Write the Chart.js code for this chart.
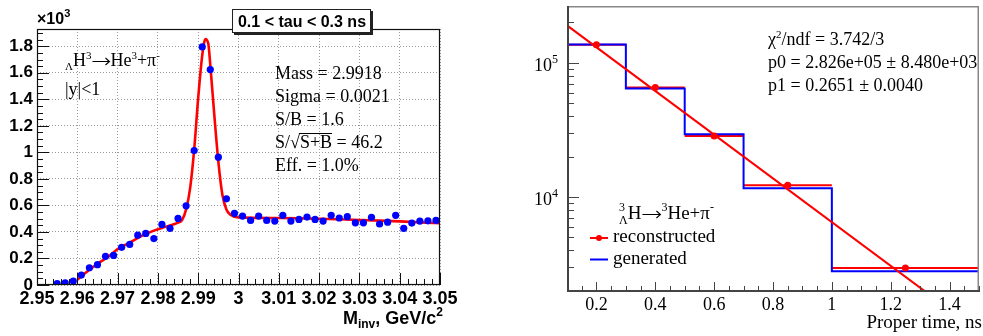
<!DOCTYPE html>
<html>
<head>
<meta charset="utf-8">
<script src="https://cdn.jsdelivr.net/npm/chart.js@4/dist/chart.umd.min.js"></script>
<style>
  html, body { margin: 0; padding: 0; background: #fff; }
  #wrap { position: relative; width: 983px; height: 336px; }
  #massChart { position: absolute; left: 0; top: 0; }
  #tauChart { position: absolute; left: 490px; top: 0; }
</style>
</head>
<body>
<div id="wrap">
  <canvas id="massChart" width="490" height="336"></canvas>
  <canvas id="tauChart" width="493" height="336"></canvas>
</div>
<script>
// left: invariant mass, 0.1 < tau < 0.3 ns (counts in units of 10^3)
const massCentres = [2.955, 2.957, 2.959, 2.961, 2.963, 2.965, 2.967, 2.969, 2.971, 2.973,
  2.975, 2.977, 2.979, 2.981, 2.983, 2.985, 2.987, 2.989, 2.991, 2.993,
  2.995, 2.997, 2.999, 3.001, 3.003, 3.005, 3.007, 3.009, 3.011, 3.013,
  3.015, 3.017, 3.019, 3.021, 3.023, 3.025, 3.027, 3.029, 3.031, 3.033,
  3.035, 3.037, 3.039, 3.041, 3.043, 3.045, 3.047, 3.049];
const massCounts = [0.010, 0.017, 0.030, 0.075, 0.130, 0.153, 0.216, 0.223, 0.284, 0.306,
  0.376, 0.389, 0.350, 0.457, 0.427, 0.502, 0.597, 1.014, 1.795, 1.624,
  0.964, 0.650, 0.540, 0.520, 0.487, 0.520, 0.487, 0.482, 0.525, 0.482,
  0.494, 0.512, 0.494, 0.482, 0.525, 0.505, 0.515, 0.469, 0.469, 0.510,
  0.460, 0.474, 0.525, 0.427, 0.467, 0.482, 0.484, 0.487];
// fit curve
const massFitX = [2.960, 2.962, 2.965, 2.968, 2.970, 2.973, 2.976, 2.979, 2.982, 2.985,
  2.986, 2.987, 2.988, 2.989, 2.990, 2.991, 2.9918, 2.9925, 2.993, 2.994,
  2.995, 2.996, 2.997, 2.998, 3.000, 3.010, 3.020, 3.030, 3.040, 3.050];
const massFitY = [0.04, 0.09, 0.16, 0.22, 0.27, 0.32, 0.37, 0.41, 0.44, 0.47,
  0.49, 0.57, 0.73, 1.02, 1.41, 1.73, 1.855, 1.82, 1.66, 1.28,
  0.93, 0.68, 0.57, 0.53, 0.51, 0.505, 0.50, 0.49, 0.48, 0.465];
const massTicks = [2.95, 2.96, 2.97, 2.98, 2.99, 3.00, 3.01, 3.02, 3.03, 3.04, 3.05];
const countTicks = [0, 0.2, 0.4, 0.6, 0.8, 1.0, 1.2, 1.4, 1.6, 1.8];

// right: proper time spectrum
const tauEdges = [0.1, 0.3, 0.5, 0.7, 1.0, 1.5];
const generated = [1.37e5, 6.44e4, 2.93e4, 1.16e4, 2.79e3];
const reconstructed = [1.36e5, 6.55e4, 2.84e4, 1.22e4, 2.95e3];
const recoCentres = [0.2, 0.4, 0.6, 0.85, 1.25];
const expFitX = [0.1, 1.32];
const expFitY = [1.9e5, 1950];
const tauTicks = [0.2, 0.4, 0.6, 0.8, 1.0, 1.2, 1.4];
const yieldMajor = [1e4, 1e5];

const SANS = '"Liberation Sans", Arial, sans-serif';
const SERIF = '"Liberation Serif", "Times New Roman", serif';
const RED = 'rgb(255,0,0)';
const BLUE = 'rgb(0,0,255)';

// draw a run of text pieces (sub/superscripts, thin arrow) left to right
function richText(ctx, x, y, parts, align) {
  const fnt = p => (p.bold ? 'bold ' : '') + p.size + 'px ' + (p.family || SERIF);
  let total = 0;
  parts.forEach(p => {
    ctx.font = fnt(p);
    p.w = p.arrow ? p.arrow : ctx.measureText(p.t).width;
    if (!p.keep) total += p.w;
  });
  let cx = align === 'right' ? x - total : x;
  ctx.textAlign = 'left';
  ctx.textBaseline = 'alphabetic';
  parts.forEach(p => {
    if (p.arrow) {
      const ay = Math.round(y - 5) + 0.5;
      ctx.save();
      ctx.strokeStyle = ctx.fillStyle;
      ctx.lineWidth = 1.1;
      ctx.beginPath();
      ctx.moveTo(cx + 1, ay); ctx.lineTo(cx + p.w - 1, ay);
      ctx.moveTo(cx + p.w - 5, ay - 3.5); ctx.lineTo(cx + p.w - 1, ay); ctx.lineTo(cx + p.w - 5, ay + 3.5);
      ctx.stroke();
      ctx.restore();
    } else {
      ctx.font = fnt(p);
      ctx.fillText(p.t, cx, y + (p.dy || 0));
    }
    if (!p.keep) cx += p.w;
  });
  return cx;
}

function fixedAxis(size) {
  return function (scale) {
    if (scale.isHorizontal()) scale.height = size; else scale.width = size;
  };
}

const pts = (xs, ys) => xs.map((x, i) => ({ x: x, y: ys[i] }));

// ---------- left chart ----------
const massDecor = {
  id: 'massDecor',
  afterDatasetsDraw(chart) {
    const { ctx, chartArea: a, scales: { x, y } } = chart;
    ctx.save();
    ctx.strokeStyle = '#111';
    ctx.lineWidth = 1;
    ctx.beginPath();
    for (let i = 0; i <= 38; i++) {
      const py = Math.round(y.getPixelForValue(i * 0.05)) + 0.5;
      if (py < a.top) continue;
      const len = i % 4 === 0 ? 12 : 6;
      ctx.moveTo(a.left, py); ctx.lineTo(a.left + len, py);
    }
    for (let i = 0; i <= 50; i++) {
      const px = Math.round(x.getPixelForValue(2.95 + i * 0.002)) + 0.5;
      const len = i % 5 === 0 ? 12 : 6;
      ctx.moveTo(px, a.bottom); ctx.lineTo(px, a.bottom - len);
    }
    ctx.stroke();
    ctx.lineWidth = 1.2;
    ctx.strokeRect(Math.round(a.left) + 0.5, Math.round(a.top) + 0.5,
      Math.round(a.width) - 1, Math.round(a.height) - 1);
    ctx.restore();
  },
  afterDraw(chart) {
    const { ctx } = chart;
    ctx.save();
    ctx.fillStyle = '#000';
    // exponent
    richText(ctx, 37, 24, [
      { t: '\u00d710', size: 16, bold: true, family: SANS },
      { t: '3', size: 11, bold: true, family: SANS, dy: -7 }
    ]);
    // title box
    ctx.fillStyle = '#222';
    ctx.fillRect(234, 11, 139, 24);
    ctx.fillStyle = '#fff';
    ctx.fillRect(232, 9, 139, 24);
    ctx.strokeStyle = '#222';
    ctx.lineWidth = 1;
    ctx.strokeRect(232.5, 9.5, 138, 23);
    ctx.fillStyle = '#000';
    ctx.font = 'bold 16px ' + SANS;
    ctx.textAlign = 'center';
    ctx.textBaseline = 'alphabetic';
    ctx.fillText('0.1 < tau < 0.3 ns', 302, 27);
    // reaction
    richText(ctx, 65, 66, [
      { t: '\u039b', size: 11, dy: 4 },
      { t: 'H', size: 18 },
      { t: '3', size: 11, dy: -7 },
      { arrow: 19 },
      { t: 'He', size: 18 },
      { t: '3', size: 11, dy: -7 },
      { t: '+\u03c0', size: 18 },
      { t: '-', size: 11, dy: -7 }
    ]);
    richText(ctx, 65, 95, [{ t: '|y|<1', size: 18 }]);
    // fit results
    ctx.font = '18px ' + SERIF;
    ctx.textAlign = 'left';
    ctx.fillText('Mass = 2.9918', 275, 79);
    ctx.fillText('Sigma = 0.0021', 275, 102);
    ctx.fillText('S/B = 1.6', 275, 125);
    const sx = 275 + ctx.measureText('S/\u221a').width;
    ctx.fillText('S/\u221aS+B = 46.2', 275, 148);
    const sw = ctx.measureText('S+B').width;
    ctx.strokeStyle = '#000';
    ctx.lineWidth = 1;
    ctx.beginPath();
    ctx.moveTo(sx - 1, 133.5); ctx.lineTo(sx + sw, 133.5);
    ctx.stroke();
    ctx.fillText('Eff. = 1.0%', 275, 171);
    // axis title
    richText(ctx, 443, 324, [
      { t: 'M', size: 18, bold: true, family: SANS },
      { t: 'inv', size: 12, bold: true, family: SANS, dy: 4 },
      { t: ', GeV/c', size: 18, bold: true, family: SANS },
      { t: '2', size: 12, bold: true, family: SANS, dy: -8 }
    ], 'right');
    ctx.restore();
  }
};

new Chart(document.getElementById('massChart'), {
  type: 'line',
  data: {
    datasets: [
      {
        data: pts(massCentres, massCounts),
        showLine: false,
        pointRadius: 3.6,
        pointBackgroundColor: BLUE,
        pointBorderWidth: 0,
        order: 0
      },
      {
        data: pts(massFitX, massFitY),
        borderColor: RED,
        borderWidth: 2.6,
        pointRadius: 0,
        cubicInterpolationMode: 'monotone',
        order: 1
      }
    ]
  },
  options: {
    responsive: false,
    animation: false,
    layout: { padding: { top: 29, right: 50, left: 0, bottom: 0 } },
    plugins: { legend: { display: false }, tooltip: { enabled: false } },
    scales: {
      x: {
        type: 'linear', min: 2.95, max: 3.05,
        afterBuildTicks: s => { s.ticks = massTicks.map(v => ({ value: v })); },
        afterFit: fixedAxis(51),
        grid: { color: '#9a9a9a', lineWidth: 1, drawTicks: false },
        border: { display: false, dash: [1, 2] },
        ticks: {
          autoSkip: false, maxRotation: 0, padding: 3, color: '#000',
          font: { family: SANS, size: 18, weight: 'bold' },
          callback: v => String(Number(v.toFixed(2)))
        }
      },
      y: {
        type: 'linear', min: 0, max: 1.93,
        afterBuildTicks: s => { s.ticks = countTicks.map(v => ({ value: v })); },
        afterFit: fixedAxis(37),
        grid: { color: '#9a9a9a', lineWidth: 1, drawTicks: false },
        border: { display: false, dash: [1, 2] },
        ticks: {
          autoSkip: false, padding: 4, color: '#000',
          font: { family: SANS, size: 17, weight: 'bold' },
          callback: v => String(Number(v.toFixed(1)))
        }
      }
    }
  },
  plugins: [massDecor]
});

// ---------- right chart ----------
const recoBars = [];
reconstructed.forEach((v, i) => {
  recoBars.push({ x: tauEdges[i], y: v }, { x: tauEdges[i + 1], y: v }, { x: tauEdges[i + 1], y: null });
});
const genSteps = pts(tauEdges, generated.concat([generated[generated.length - 1]]));

const tauDecor = {
  id: 'tauDecor',
  afterDatasetsDraw(chart) {
    const { ctx, chartArea: a, scales: { x, y } } = chart;
    ctx.save();
    ctx.strokeStyle = '#444';
    ctx.lineWidth = 1;
    ctx.beginPath();
    y.ticks.forEach(t => {
      const py = Math.round(y.getPixelForValue(t.value)) + 0.5;
      const len = yieldMajor.includes(t.value) ? 12 : 7;
      ctx.moveTo(a.left, py); ctx.lineTo(a.left + len, py);
    });
    for (let i = 0; i <= 28; i++) {
      const v = 0.1 + i * 0.05;
      const px = Math.round(x.getPixelForValue(v)) + 0.5;
      const len = (i + 2) % 4 === 0 ? 10 : 6;
      ctx.moveTo(px, a.bottom); ctx.lineTo(px, a.bottom - len);
    }
    ctx.stroke();
    // frame: top/right light, axes dark
    ctx.strokeStyle = '#888';
    ctx.lineWidth = 1.5;
    ctx.beginPath();
    ctx.moveTo(a.left, a.top + 0.75); ctx.lineTo(a.right - 0.75, a.top + 0.75);
    ctx.lineTo(a.right - 0.75, a.bottom);
    ctx.stroke();
    ctx.strokeStyle = '#444';
    ctx.lineWidth = 2;
    ctx.beginPath();
    ctx.moveTo(a.left + 1, a.top); ctx.lineTo(a.left + 1, a.bottom - 1);
    ctx.lineTo(a.right, a.bottom - 1);
    ctx.stroke();
    ctx.restore();
  },
  afterDraw(chart) {
    const { ctx, scales: { y } } = chart;
    ctx.save();
    ctx.fillStyle = '#000';
    yieldMajor.forEach(v => {
      const py = y.getPixelForValue(v);
      richText(ctx, 68, py + 8, [
        { t: '10', size: 18 },
        { t: String(Math.round(Math.log10(v))), size: 12, dy: -8 }
      ], 'right');
    });
    // fit box text
    richText(ctx, 278, 45, [
      { t: '\u03c7', size: 18 },
      { t: '2', size: 11, dy: -7 },
      { t: '/ndf = 3.742/3', size: 18 }
    ]);
    ctx.font = '18px ' + SERIF;
    ctx.fillText('p0 = 2.826e+05 \u00b1 8.480e+03', 278, 68);
    ctx.fillText('p1 = 0.2651 \u00b1 0.0040', 278, 91);
    // legend
    richText(ctx, 129, 219, [
      { t: '3', size: 12, dy: -8, keep: true },
      { t: '\u039b', size: 12, dy: 5 },
      { t: 'H', size: 19 },
      { arrow: 20 },
      { t: '3', size: 12, dy: -8 },
      { t: 'He+\u03c0', size: 19 },
      { t: '-', size: 12, dy: -8 }
    ]);
    ctx.font = '19px ' + SERIF;
    ctx.fillText('reconstructed', 123, 242);
    ctx.fillText('generated', 123, 264);
    ctx.lineWidth = 2;
    ctx.strokeStyle = RED;
    ctx.beginPath(); ctx.moveTo(100, 238); ctx.lineTo(118, 238); ctx.stroke();
    ctx.fillStyle = RED;
    ctx.beginPath(); ctx.arc(109, 238, 3, 0, Math.PI * 2); ctx.fill();
    ctx.strokeStyle = BLUE;
    ctx.beginPath(); ctx.moveTo(100, 259.5); ctx.lineTo(118, 259.5); ctx.stroke();
    // axis title
    ctx.fillStyle = '#000';
    ctx.font = '19px ' + SERIF;
    ctx.textAlign = 'right';
    ctx.fillText('Proper time, ns', 492, 328);
    ctx.restore();
  }
};

new Chart(document.getElementById('tauChart'), {
  type: 'line',
  data: {
    datasets: [
      {
        data: pts(recoCentres, reconstructed),
        showLine: false,
        pointRadius: 3.5,
        pointBackgroundColor: RED,
        pointBorderWidth: 0,
        order: 0
      },
      {
        data: pts(expFitX, expFitY),
        borderColor: RED,
        borderWidth: 2,
        pointRadius: 0,
        order: 1
      },
      {
        data: genSteps,
        borderColor: BLUE,
        borderWidth: 2,
        pointRadius: 0,
        stepped: 'before',
        order: 2
      },
      {
        data: recoBars,
        borderColor: RED,
        borderWidth: 2,
        pointRadius: 0,
        spanGaps: false,
        order: 3
      }
    ]
  },
  options: {
    responsive: false,
    animation: false,
    layout: { padding: { top: 6, right: 1, left: 0, bottom: 0 } },
    plugins: { legend: { display: false }, tooltip: { enabled: false } },
    scales: {
      x: {
        type: 'linear', min: 0.1, max: 1.5,
        afterBuildTicks: s => { s.ticks = tauTicks.map(v => ({ value: v })); },
        afterFit: fixedAxis(44),
        grid: { display: false, drawTicks: false },
        border: { display: false },
        ticks: {
          autoSkip: false, maxRotation: 0, padding: 2, color: '#000',
          font: { family: SERIF, size: 18 },
          callback: v => String(Number(v.toFixed(1)))
        }
      },
      y: {
        type: 'logarithmic', min: 1954, max: 2.65e5,
        afterBuildTicks: s => {
          const t = [];
          [1e3, 1e4, 1e5].forEach(d => {
            for (let m = 1; m <= 9; m++) {
              const v = m * d;
              if (v >= 1954 && v <= 2.65e5) t.push({ value: v });
            }
          });
          s.ticks = t;
        },
        afterFit: fixedAxis(77),
        grid: { display: false, drawTicks: false },
        border: { display: false },
        ticks: { display: false }
      }
    }
  },
  plugins: [tauDecor]
});
</script>
</body>
</html>
